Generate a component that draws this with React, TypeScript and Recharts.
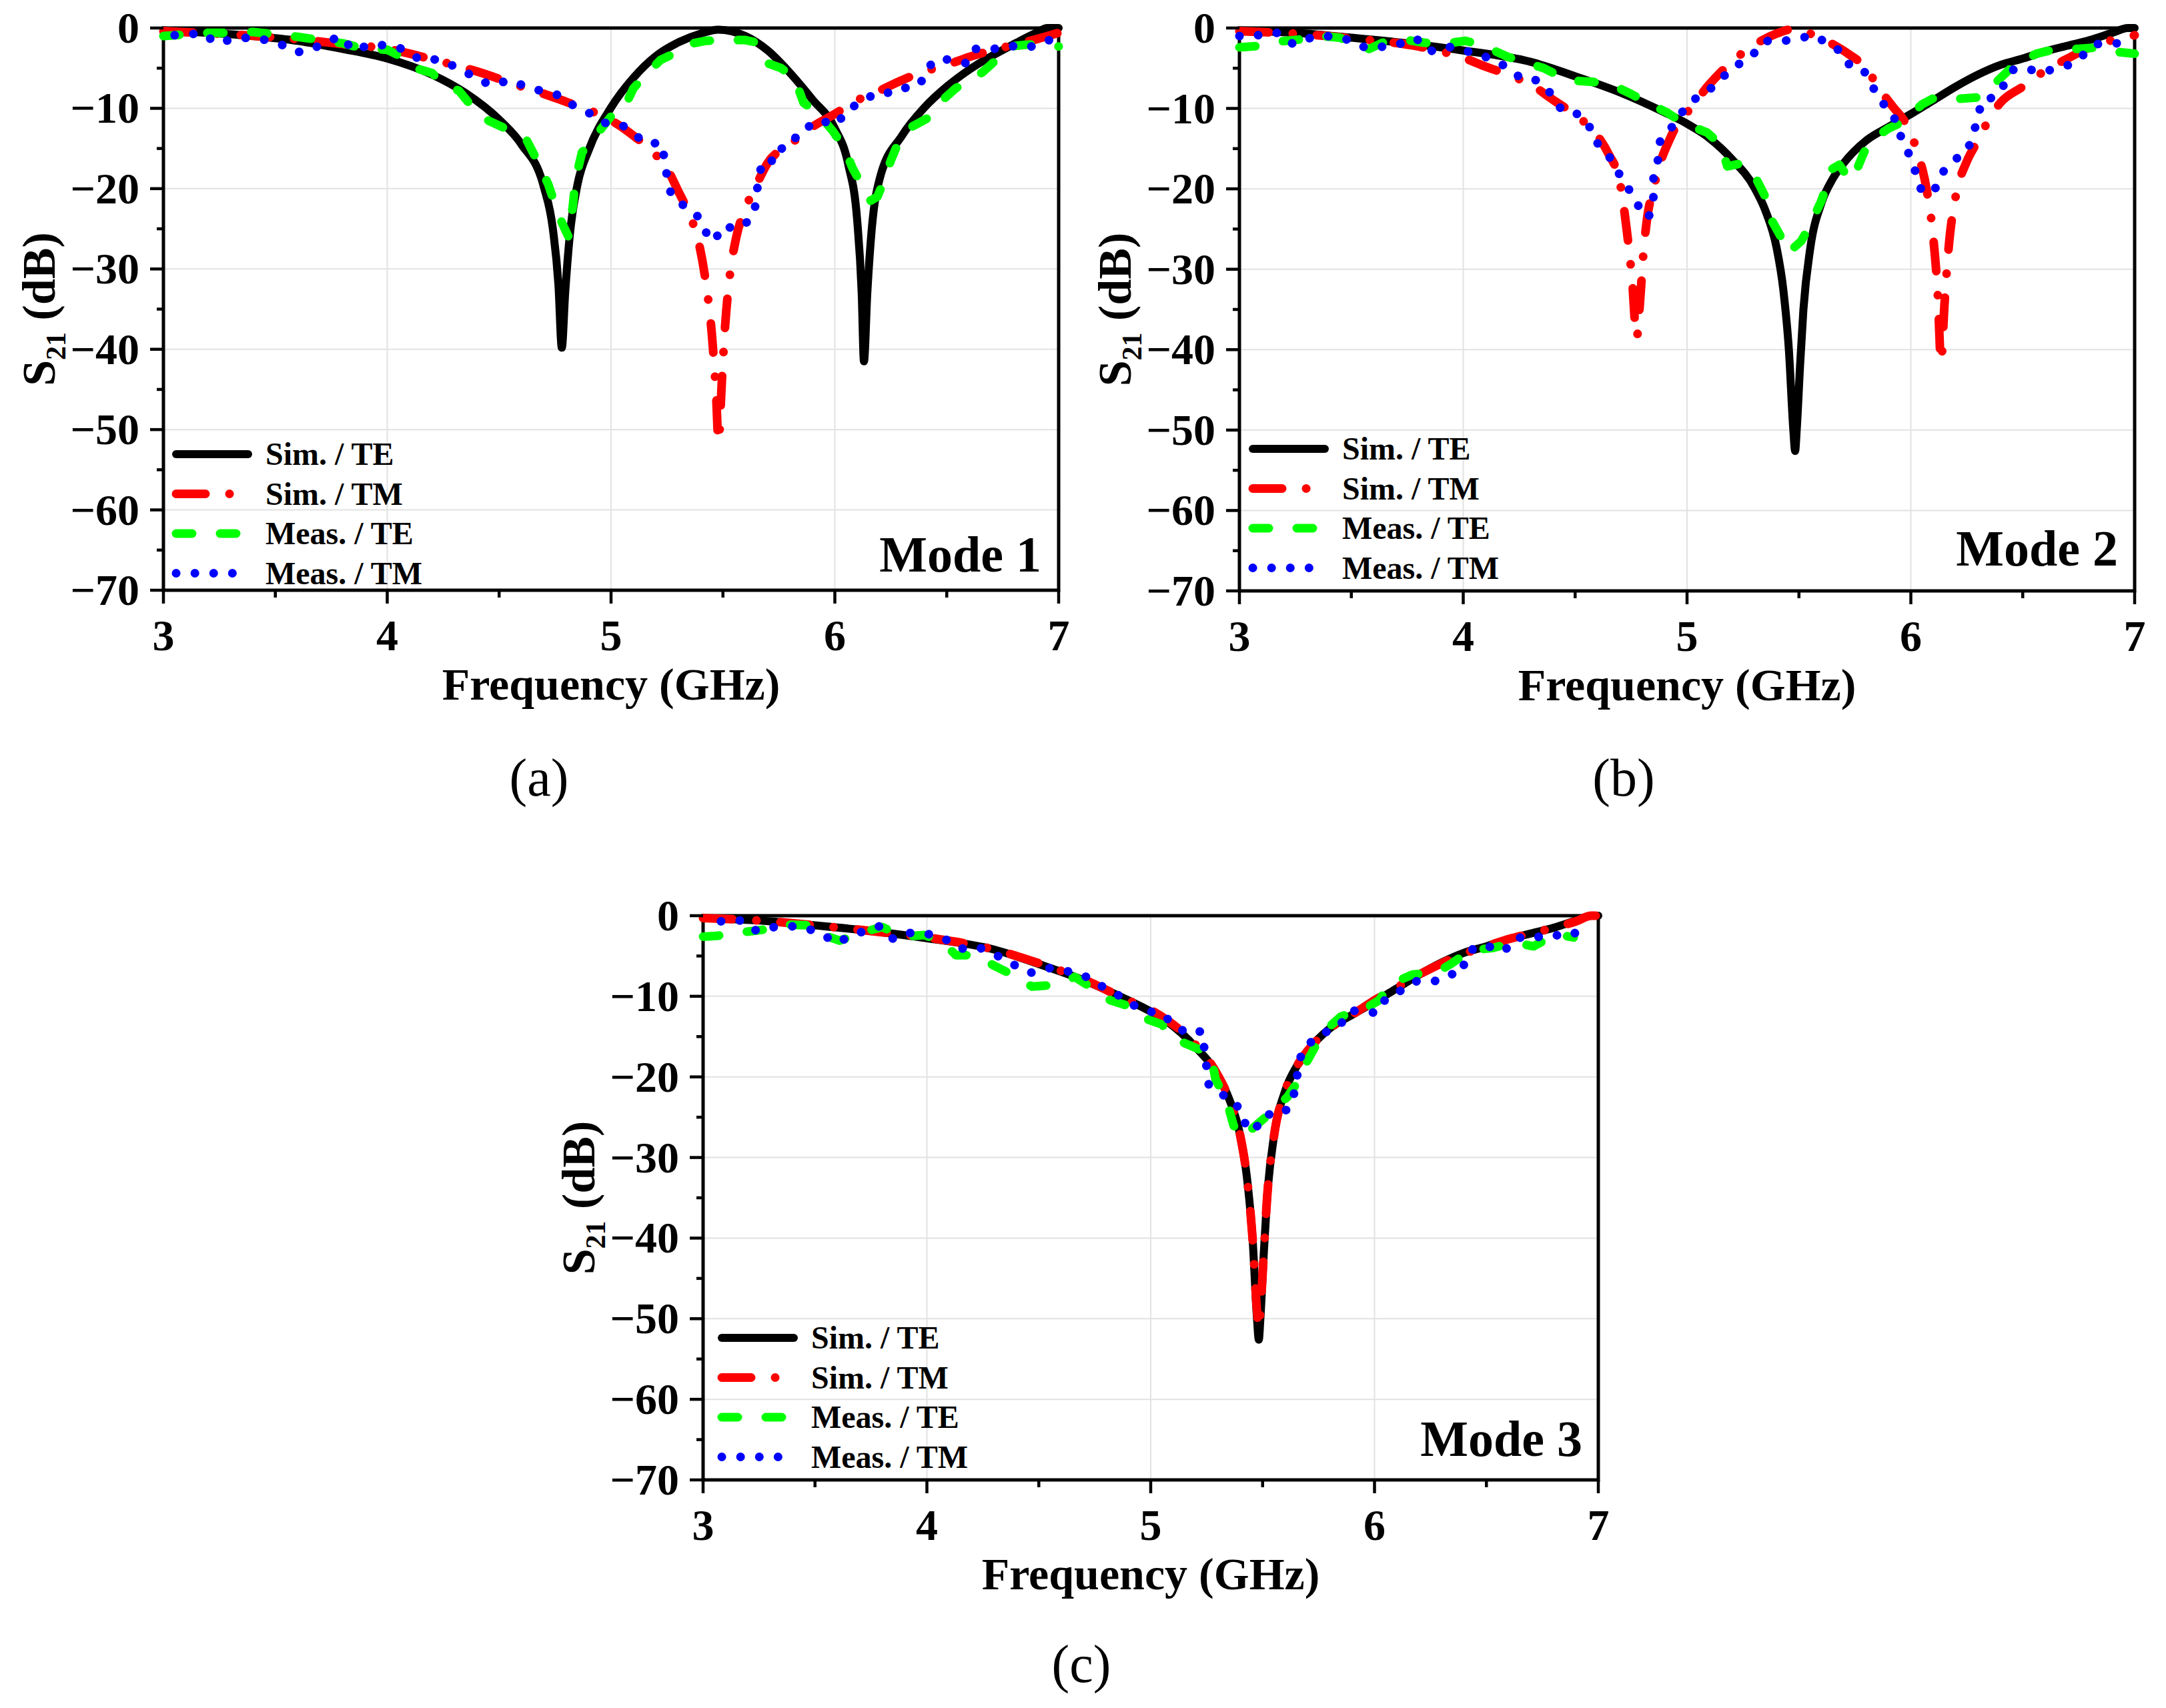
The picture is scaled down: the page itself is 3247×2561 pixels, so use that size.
import { CartesianGrid, Legend, Line, LineChart, ReferenceArea, XAxis, YAxis } from 'recharts'

type Pt = [number, number]

// frequency (GHz), S21 (dB)

const mode1SimTE: Pt[] = [
  [3.0, -0.3], [3.2, -0.6], [3.4, -1.0], [3.6, -1.6], [3.8, -2.6], [4.0, -3.8], [4.2, -5.8], [4.35, -8.1],
  [4.5, -11.4], [4.6, -14.5], [4.7, -19.8], [4.74, -25], [4.765, -32], [4.78, -39.8], [4.795, -33], [4.815, -26],
  [4.85, -19.5], [4.9, -15.2], [5.0, -9.9], [5.1, -6.2], [5.2, -3.5], [5.3, -1.8], [5.4, -0.7], [5.48, -0.2],
  [5.6, -1.0], [5.7, -2.8], [5.8, -5.6], [5.9, -8.9], [6.0, -12.5], [6.06, -17], [6.1, -24], [6.12, -33],
  [6.13, -41.5], [6.145, -33], [6.165, -25], [6.2, -18.8], [6.3, -13.4], [6.4, -9.9], [6.5, -7.3], [6.6, -5.2],
  [6.7, -3.5], [6.8, -2.0], [6.9, -0.6], [6.95, 0], [7.0, 0],
]

const mode1SimTM: Pt[] = [
  [3.0, -0.4], [3.3, -0.8], [3.6, -1.4], [3.8, -2.0], [4.0, -2.6], [4.2, -3.9], [4.4, -5.4], [4.6, -7.3],
  [4.7, -8.2], [4.8, -9.2], [4.9, -10.2], [5.0, -11.5], [5.1, -13.4], [5.2, -15.8], [5.25, -17.5], [5.3, -20.3],
  [5.35, -23.2], [5.39, -26.5], [5.42, -31], [5.45, -38], [5.47, -46], [5.48, -51.5], [5.495, -44], [5.51, -37],
  [5.53, -31], [5.56, -26], [5.6, -22.5], [5.65, -19.5], [5.7, -16.8], [5.8, -14.5], [5.9, -12.3], [6.0, -10.7],
  [6.1, -9.0], [6.2, -7.8], [6.3, -6.5], [6.4, -5.4], [6.5, -4.6], [6.6, -3.6], [6.7, -2.8], [6.8, -2.1],
  [6.9, -1.4], [7.0, -0.6],
]

const mode1MeasTE: Pt[] = [
  [3.0, -1.0], [3.1, -0.8], [3.2, -0.6], [3.3, -0.6], [3.4, -0.5], [3.5, -0.8], [3.6, -1.1], [3.7, -1.5],
  [3.8, -1.9], [3.9, -2.6], [4.0, -2.7], [4.05, -3.4], [4.1, -4.8], [4.2, -5.6], [4.25, -7.0], [4.32, -7.8],
  [4.4, -10.5], [4.45, -11.5], [4.55, -12.8], [4.62, -13.8], [4.67, -16.5], [4.72, -19.5], [4.75, -22],
  [4.78, -24.2], [4.81, -26], [4.83, -22], [4.84, -19], [4.87, -15.5], [4.92, -13.8], [5.0, -11.0], [5.05, -10.5],
  [5.1, -7.5], [5.15, -6.0], [5.22, -4.0], [5.28, -3.2], [5.35, -2.0], [5.42, -1.6], [5.5, -1.5], [5.6, -1.5],
  [5.65, -1.8], [5.7, -4.4], [5.76, -5.0], [5.82, -6.2], [5.86, -9.3], [5.92, -10.5], [5.99, -12.8], [6.04, -14.8],
  [6.08, -17.5], [6.12, -19.5], [6.16, -21.5], [6.19, -21.0], [6.22, -19], [6.25, -16.5], [6.28, -14.5],
  [6.33, -12.5], [6.41, -11.3], [6.48, -9.0], [6.54, -7.5], [6.6, -6.5], [6.66, -5.5], [6.72, -4.0], [6.78, -2.3],
  [6.85, -2.1], [6.92, -2.0], [7.0, -2.3],
]

const mode1MeasTM: Pt[] = [
  [3.05, -0.9], [3.09, -0.9], [3.17, -0.6], [3.24, -1.9], [3.32, -1.3], [3.39, -1.2], [3.46, -1.5], [3.53, -2.1],
  [3.59, -3.0], [3.64, -2.9], [3.72, -1.9], [3.79, -1.0], [3.85, -2.8], [3.93, -2.0], [4.0, -2.2], [4.07, -2.6],
  [4.15, -4.0], [4.23, -3.9], [4.31, -4.9], [4.39, -6.1], [4.46, -7.1], [4.55, -6.5], [4.63, -7.4], [4.77, -8.4],
  [4.83, -9.6], [4.91, -10.7], [4.98, -11.9], [5.05, -12.1], [5.11, -13.4], [5.17, -14.5], [5.22, -14.2],
  [5.24, -16.3], [5.25, -18.6], [5.27, -20.9], [5.32, -22.0], [5.38, -23.1], [5.42, -25.3], [5.46, -26.6],
  [5.5, -24.6], [5.54, -24.9], [5.59, -24.7], [5.64, -23.1], [5.65, -20.8], [5.66, -18.5], [5.68, -16.4],
  [5.74, -16.6], [5.77, -14.5], [5.79, -13.9], [5.85, -13.5], [5.9, -11.7], [5.96, -11.7], [6.01, -12.0],
  [6.05, -10.3], [6.13, -9.0], [6.19, -8.0], [6.27, -8.1], [6.34, -7.1], [6.38, -7.0], [6.42, -4.8], [6.46, -3.8],
  [6.53, -4.0], [6.59, -4.4], [6.63, -2.6], [6.71, -2.6], [6.78, -2.2], [6.86, -2.5], [6.95, -1.5], [7.0, -1.6],
]

const mode2SimTE: Pt[] = [
  [3.0, -0.3], [3.3, -0.7], [3.5, -1.2], [3.75, -1.9], [4.0, -2.8], [4.3, -4.2], [4.5, -6.0], [4.7, -8.0],
  [4.9, -10.5], [5.0, -11.9], [5.1, -13.7], [5.2, -16.3], [5.3, -19.8], [5.35, -22.7], [5.4, -27.3], [5.43, -32.5],
  [5.455, -40], [5.475, -50], [5.483, -52.6], [5.49, -50], [5.505, -42], [5.52, -35], [5.55, -27.5], [5.6, -21.8],
  [5.65, -18.8], [5.7, -16.8], [5.8, -14.0], [5.9, -12.3], [6.0, -10.7], [6.1, -9.0], [6.2, -7.3], [6.3, -5.8],
  [6.4, -4.6], [6.5, -3.8], [6.6, -2.9], [6.7, -2.2], [6.8, -1.5], [6.9, -0.6], [6.97, 0], [7.0, 0],
]

const mode2SimTM: Pt[] = [
  [3.0, -0.4], [3.3, -0.8], [3.5, -1.3], [3.8, -2.3], [4.0, -3.7], [4.1, -4.8], [4.2, -5.8], [4.3, -7.0],
  [4.4, -8.9], [4.5, -10.8], [4.6, -13.4], [4.65, -15.7], [4.7, -19.2], [4.73, -25], [4.755, -31.5], [4.775, -38.5],
  [4.79, -34], [4.805, -28], [4.82, -24], [4.85, -20], [4.88, -16.8], [4.92, -14.0], [4.96, -11.8], [5.0, -10.5],
  [5.1, -7.0], [5.2, -4.2], [5.3, -2.1], [5.4, -0.7], [5.48, -0.1], [5.56, -0.8], [5.65, -2.0], [5.72, -3.2],
  [5.8, -5.0], [5.86, -7.6], [5.92, -9.8], [5.98, -12.0], [6.03, -15.5], [6.07, -20.0], [6.1, -26.0], [6.12, -33],
  [6.135, -41.5], [6.15, -34.5], [6.17, -27], [6.2, -21.0], [6.25, -16.6], [6.3, -14.0], [6.35, -11.3], [6.4, -9.3],
  [6.5, -7.3], [6.6, -5.3], [6.7, -3.8], [6.8, -2.4], [6.9, -1.5], [7.0, -0.9],
]

const mode2MeasTE: Pt[] = [
  [3.0, -2.4], [3.1, -2.2], [3.17, -1.7], [3.28, -1.4], [3.36, -1.0], [3.45, -1.2], [3.53, -2.3], [3.58, -2.6],
  [3.65, -1.7], [3.75, -1.5], [3.82, -1.8], [3.9, -2.0], [4.01, -1.6], [4.09, -2.2], [4.2, -3.6], [4.27, -4.2],
  [4.36, -5.0], [4.47, -6.5], [4.58, -6.7], [4.66, -7.0], [4.75, -8.2], [4.83, -9.4], [4.91, -10.5], [4.98, -11.8],
  [5.09, -13.0], [5.15, -14.5], [5.18, -17.2], [5.25, -16.8], [5.31, -18.8], [5.35, -21.0], [5.37, -23.5],
  [5.42, -26.0], [5.45, -28.0], [5.51, -26.5], [5.55, -24.5], [5.6, -21.5], [5.65, -17.5], [5.68, -17.0],
  [5.73, -19.0], [5.76, -17.5], [5.79, -15.5], [5.82, -14.0], [5.9, -12.5], [5.97, -11.6], [6.05, -9.5],
  [6.11, -8.6], [6.22, -8.8], [6.31, -8.6], [6.39, -6.5], [6.45, -4.9], [6.56, -3.2], [6.65, -2.6], [6.75, -2.6],
  [6.84, -2.4], [6.93, -3.0], [7.0, -3.2],
]

const mode2MeasTM: Pt[] = [
  [3.0, -1.0], [3.08, -0.9], [3.17, -0.6], [3.24, -2.0], [3.32, -1.2], [3.39, -1.0], [3.47, -1.3], [3.54, -2.3],
  [3.62, -2.5], [3.65, -2.2], [3.73, -1.9], [3.79, -1.3], [3.85, -2.9], [3.93, -2.3], [4.0, -2.8], [4.07, -3.2],
  [4.2, -4.9], [4.26, -6.3], [4.33, -6.5], [4.39, -8.1], [4.44, -10.2], [4.5, -10.5], [4.56, -11.9], [4.58, -13.8],
  [4.64, -15.4], [4.68, -17.3], [4.72, -19.3], [4.77, -21.2], [4.8, -23.4], [4.83, -23.4], [4.85, -21.0],
  [4.85, -18.7], [4.87, -16.4], [4.88, -14.0], [4.92, -12.8], [5.0, -9.6], [5.06, -8.3], [5.13, -7.1], [5.19, -5.2],
  [5.26, -4.0], [5.31, -2.9], [5.35, -1.6], [5.42, -1.7], [5.5, -1.2], [5.58, -1.0], [5.63, -2.1], [5.69, -2.9],
  [5.73, -4.8], [5.79, -5.3], [5.83, -7.3], [5.86, -9.0], [5.92, -10.5], [5.94, -12.7], [5.97, -14.2], [6.0, -16.3],
  [6.03, -18.6], [6.05, -20.5], [6.11, -19.9], [6.14, -18.0], [6.2, -16.3], [6.25, -15.4], [6.28, -13.2],
  [6.3, -10.9], [6.32, -8.9], [6.38, -8.6], [6.42, -6.9], [6.46, -5.1], [6.52, -5.1], [6.59, -5.5], [6.66, -4.9],
  [6.72, -4.5], [6.83, -2.0], [6.91, -1.9], [7.0, -1.9],
]

const mode3SimTE: Pt[] = mode2SimTE

const mode3SimTM: Pt[] = [
  [3.0, -0.3], [3.3, -0.7], [3.5, -1.2], [3.75, -1.9], [4.0, -2.7], [4.3, -4.2], [4.5, -5.9], [4.7, -7.9],
  [4.9, -10.5], [5.0, -11.7], [5.1, -13.5], [5.2, -16.0], [5.3, -19.8], [5.35, -22.7], [5.4, -27.3], [5.43, -32.5],
  [5.455, -40], [5.475, -49], [5.483, -51.2], [5.49, -49], [5.505, -42], [5.52, -35], [5.55, -27.5], [5.6, -21.8],
  [5.65, -18.8], [5.7, -16.8], [5.8, -14.0], [5.9, -12.3], [6.0, -10.5], [6.1, -8.9], [6.2, -7.3], [6.3, -5.9],
  [6.4, -4.7], [6.5, -3.8], [6.6, -2.9], [6.7, -2.2], [6.8, -1.5], [6.9, -0.7], [6.97, 0], [7.0, 0],
]

const mode3MeasTE: Pt[] = [
  [3.0, -2.6], [3.06, -2.5], [3.19, -2.0], [3.31, -1.6], [3.38, -1.1], [3.49, -1.2], [3.53, -2.3], [3.61, -3.1],
  [3.72, -2.0], [3.8, -1.4], [3.89, -2.6], [3.99, -2.4], [4.07, -3.3], [4.13, -4.9], [4.22, -4.9], [4.3, -6.2],
  [4.38, -7.3], [4.47, -8.8], [4.57, -8.6], [4.66, -7.6], [4.74, -9.0], [4.82, -10.5], [4.9, -11.2], [4.96, -12.6],
  [5.05, -13.5], [5.1, -15.2], [5.21, -16.5], [5.27, -17.5], [5.29, -20.3], [5.34, -23.0], [5.37, -26.0],
  [5.4, -27.5], [5.45, -26.5], [5.53, -24.6], [5.61, -22.5], [5.66, -20.5], [5.7, -18.0], [5.74, -16.0],
  [5.77, -14.5], [5.85, -12.5], [5.96, -11.5], [6.02, -10.5], [6.07, -8.5], [6.17, -7.3], [6.28, -7.0],
  [6.34, -6.0], [6.43, -4.3], [6.53, -4.0], [6.62, -3.3], [6.71, -3.8], [6.81, -2.3], [6.89, -2.7],
]

const mode3MeasTM: Pt[] = [
  [3.08, -0.7], [3.17, -0.6], [3.24, -1.9], [3.32, -1.4], [3.39, -1.3], [3.46, -1.5], [3.53, -2.3], [3.6, -3.4],
  [3.65, -2.6], [3.73, -1.8], [3.79, -1.3], [3.85, -2.9], [3.93, -2.1], [4.01, -2.3], [4.07, -2.7], [4.15, -4.1],
  [4.23, -3.9], [4.31, -4.9], [4.39, -6.1], [4.46, -7.1], [4.55, -6.5], [4.63, -6.9], [4.7, -7.4], [4.77, -8.6],
  [4.83, -9.4], [4.91, -10.9], [4.97, -11.8], [5.05, -12.1], [5.1, -13.5], [5.17, -14.7], [5.23, -14.3],
  [5.24, -16.6], [5.25, -18.9], [5.26, -21.1], [5.32, -22.2], [5.38, -23.1], [5.41, -25.4], [5.46, -26.8],
  [5.51, -24.6], [5.55, -24.7], [5.59, -24.6], [5.63, -23.3], [5.65, -20.9], [5.66, -18.6], [5.68, -16.5],
  [5.76, -14.7], [5.84, -13.8], [5.89, -11.8], [5.95, -11.8], [6.01, -12.1], [6.05, -10.3], [6.13, -9.1],
  [6.19, -8.1], [6.27, -8.1], [6.32, -7.3], [6.39, -7.2], [6.41, -4.8], [6.46, -3.7], [6.53, -3.9], [6.58, -4.4],
  [6.63, -2.7], [6.71, -2.8], [6.78, -2.3], [6.86, -2.6], [6.94, -1.6],
]

const seriesNames = ['Sim. / TE', 'Sim. / TM', 'Meas. / TE', 'Meas. / TM']
const xTicks = [3, 3.5, 4, 4.5, 5, 5.5, 6, 6.5, 7]
const yTicks = [0, -5, -10, -15, -20, -25, -30, -35, -40, -45, -50, -55, -60, -65, -70]
const xGrid = [4, 5, 6]
const yGrid = [-10, -20, -30, -40, -50, -60]

// look of the four curves
const lineStyles = [
  { color: '#000000', width: 12, dash: undefined as string | undefined, curve: 'monotone' as const, len: 108 },
  { color: '#ff0000', width: 13, dash: '44 36 0.1 36', curve: 'monotone' as const, len: 81 },
  { color: '#00ff00', width: 13, dash: '24 42', curve: 'linear' as const, len: 90 },
  { color: '#0000ff', width: 13, dash: '0.1 28', curve: 'linear' as const, len: 85 },
]

const SERIF = '"Liberation Serif", "Times New Roman", serif'
const Y_AXIS_W = 245
const PLOT_TOP = 42
const PLOT_W = 1342
const RIGHT = 30
const X_AXIS_H = 200

const panels = [
  {
    id: 'a', left: 0, top: 0, plotH: 843, mode: 'Mode 1', modeRight: 26, modeUp: 28,
    legendDx: 13, legendDy: -204, caption: '(a)', capX: 808, capY: 1193,
    data: [mode1SimTE, mode1SimTM, mode1MeasTE, mode1MeasTM],
  },
  {
    id: 'b', left: 1613, top: 0, plotH: 844, mode: 'Mode 2', modeRight: 25, modeUp: 38,
    legendDx: 14, legendDy: -213, caption: '(b)', capX: 2434, capY: 1193,
    data: [mode2SimTE, mode2SimTM, mode2MeasTE, mode2MeasTM],
  },
  {
    id: 'c', left: 809, top: 1331, plotH: 846, mode: 'Mode 3', modeRight: 24, modeUp: 36,
    legendDx: 22, legendDy: -213, caption: '(c)', capX: 1621, capY: 2522,
    data: [mode3SimTE, mode3SimTM, mode3MeasTE, mode3MeasTM],
  },
]

const toRows = (pts: Pt[]) => pts.map(([f, db]) => ({ f, db }))
const fmtDb = (v: number) => (v < 0 ? '\u2212' + Math.abs(v) : String(v))

const tickText = { fontFamily: SERIF, fontWeight: 700, fontSize: 66, fill: '#000' }

function XTick(props: any) {
  const { x, y, payload } = props
  const major = Number.isInteger(payload.value)
  return (
    <g>
      <line x1={x} x2={x} y1={y} y2={y + (major ? 20 : 11)} stroke="#000" strokeWidth={4.5} />
      {major && (
        <text x={x} y={y + 90} textAnchor="middle" style={tickText}>
          {payload.value}
        </text>
      )}
    </g>
  )
}

function YTick(props: any) {
  const { x, y, payload } = props
  const major = payload.value % 10 === 0
  return (
    <g>
      <line x1={x - (major ? 20 : 10)} x2={x} y1={y} y2={y} stroke="#000" strokeWidth={4.5} />
      {major && (
        <text x={x - 36} y={y + 22} textAnchor="end" style={tickText}>
          {fmtDb(payload.value)}
        </text>
      )}
    </g>
  )
}

function LegendBox() {
  return (
    <svg width={560} height={250} style={{ display: 'block' }}>
      {lineStyles.map((s, i) => {
        const cy = 30 + i * 59.5
        return (
          <g key={i}>
            <line
              x1={16}
              x2={16 + s.len}
              y1={cy}
              y2={cy}
              stroke={s.color}
              strokeWidth={s.width}
              strokeDasharray={s.dash}
              strokeLinecap="round"
            />
            <text x={150} y={cy + 16} style={{ fontFamily: SERIF, fontWeight: 700, fontSize: 48, fill: '#000' }}>
              {seriesNames[i]}
            </text>
          </g>
        )
      })}
    </svg>
  )
}

function Panel({ p }: { p: (typeof panels)[number] }) {
  const chartW = Y_AXIS_W + PLOT_W + RIGHT
  const chartH = PLOT_TOP + p.plotH + X_AXIS_H
  const plotBottom = PLOT_TOP + p.plotH

  const xTitle = () => (
    <text
      x={Y_AXIS_W + PLOT_W / 2}
      y={plotBottom + 164}
      textAnchor="middle"
      style={{ fontFamily: SERIF, fontWeight: 700, fontSize: 68, fill: '#000' }}
    >
      Frequency (GHz)
    </text>
  )

  const yTitle = () => {
    const tx = Y_AXIS_W - 163
    const ty = PLOT_TOP + p.plotH / 2
    return (
      <text
        x={tx}
        y={ty}
        transform={`rotate(-90 ${tx} ${ty})`}
        textAnchor="middle"
        style={{ fontFamily: SERIF, fontWeight: 700, fontSize: 70, fill: '#000' }}
      >
        <tspan>S</tspan>
        <tspan fontSize={42} dy={16}>21</tspan>
        <tspan dy={-16}> (dB)</tspan>
      </text>
    )
  }

  const modeLabel = () => (
    <text
      x={Y_AXIS_W + PLOT_W - p.modeRight}
      y={plotBottom - p.modeUp}
      textAnchor="end"
      style={{ fontFamily: SERIF, fontWeight: 700, fontSize: 76, fill: '#000' }}
    >
      {p.mode}
    </text>
  )

  return (
    <div style={{ position: 'absolute', left: p.left, top: p.top }}>
      <LineChart width={chartW} height={chartH} margin={{ top: PLOT_TOP, right: RIGHT, bottom: 0, left: 0 }}>
        <CartesianGrid
          horizontalValues={yGrid}
          verticalValues={xGrid}
          stroke="#e2e2e2"
          strokeWidth={2}
          fill="none"
        />
        <XAxis
          dataKey="f"
          type="number"
          domain={[3, 7]}
          ticks={xTicks}
          interval={0}
          tickSize={0}
          tickMargin={0}
          tickLine={false}
          axisLine={false}
          tick={XTick}
          height={X_AXIS_H}
          label={xTitle}
        />
        <YAxis
          type="number"
          domain={[-70, 0]}
          ticks={yTicks}
          interval={0}
          tickSize={0}
          tickMargin={0}
          tickLine={false}
          axisLine={false}
          tick={YTick}
          width={Y_AXIS_W}
          label={yTitle}
        />
        {p.data.map((pts, i) => (
          <Line
            key={seriesNames[i]}
            name={seriesNames[i]}
            data={toRows(pts)}
            dataKey="db"
            type={lineStyles[i].curve}
            stroke={lineStyles[i].color}
            strokeWidth={lineStyles[i].width}
            strokeDasharray={lineStyles[i].dash}
            strokeLinecap="round"
            strokeLinejoin="round"
            dot={false}
            activeDot={false}
            isAnimationActive={false}
          />
        ))}
        <ReferenceArea
          x1={3}
          x2={7}
          y1={-70}
          y2={0}
          fill="none"
          fillOpacity={0}
          stroke="#000"
          strokeWidth={5}
          label={modeLabel}
        />
        <Legend
          layout="vertical"
          align="center"
          verticalAlign="middle"
          content={() => <LegendBox />}
          wrapperStyle={{
            left: Y_AXIS_W + p.legendDx - 10,
            top: plotBottom + p.legendDy - 30,
            width: 'auto',
            height: 'auto',
          }}
        />
      </LineChart>
    </div>
  )
}

export default function App() {
  return (
    <div
      style={{
        position: 'relative',
        width: 3247,
        height: 2561,
        background: '#fff',
        overflow: 'hidden',
      }}
    >
      <style>{'body{margin:0}'}</style>
      {panels.map((p) => (
        <Panel key={p.id} p={p} />
      ))}
      {panels.map((p) => (
        <div
          key={p.id + '-cap'}
          style={{
            position: 'absolute',
            left: p.capX - 100,
            width: 200,
            top: p.capY - 67,
            textAlign: 'center',
            fontFamily: SERIF,
            fontSize: 80,
            lineHeight: 1,
            color: '#000',
          }}
        >
          {p.caption}
        </div>
      ))}
    </div>
  )
}
